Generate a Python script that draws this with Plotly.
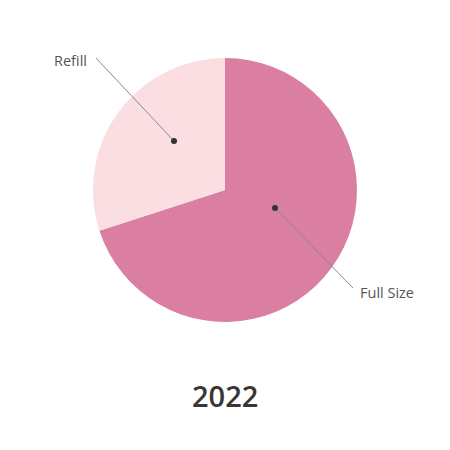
import plotly.graph_objects as go

labels = ["Full Size", "Refill"]
values = [70, 30]
colors = ["#DA7EA2", "#FADEE2"]
title_text = "2022"

W = H = 450
OFF = 8  # page body margin offset
def px(x):
    return (x - OFF) / W
def py(y):
    return 1 - (y - OFF) / H

fig = go.Figure(go.Pie(
    labels=labels, values=values, sort=False, direction="clockwise",
    rotation=0, textinfo="none", hoverinfo="label+percent",
    marker=dict(colors=colors, line=dict(width=0)),
    domain=dict(x=[px(93), px(357)], y=[py(322), py(58)]),
    showlegend=False,
))

leaders = [
    ("Refill", (89, 61), (96, 58), (174, 141), "right"),
    ("Full Size", (358, 292), (353, 288), (275, 208), "left"),
]
shapes = []
annotations = []
for (lab, (lx, ly), (sx, sy), (dx, dy), xa) in leaders:
    shapes.append(dict(type="line", xref="paper", yref="paper",
                       x0=px(sx), y0=py(sy), x1=px(dx), y1=py(dy),
                       line=dict(color="#8a8a8a", width=1)))
    r = 3
    shapes.append(dict(type="circle", xref="paper", yref="paper",
                       x0=px(dx - r), x1=px(dx + r), y0=py(dy + r), y1=py(dy - r),
                       fillcolor="#333333", line=dict(width=0)))
    annotations.append(dict(text=lab, x=px(lx), y=py(ly), xref="paper", yref="paper",
                            xanchor=xa, yanchor="middle", showarrow=False,
                            font=dict(family="Open Sans", size=14.5, color="#555555")))

annotations.append(dict(text=title_text, x=px(225), y=py(395), xref="paper", yref="paper",
                        xanchor="center", yanchor="middle", showarrow=False,
                        font=dict(family="Open Sans", size=29, color="#3b3632", weight=600)))

fig.update_layout(width=W, height=H, margin=dict(l=0, r=0, t=0, b=0),
                  paper_bgcolor="white", plot_bgcolor="white",
                  shapes=shapes, annotations=annotations)
fig.write_html("out.html")
